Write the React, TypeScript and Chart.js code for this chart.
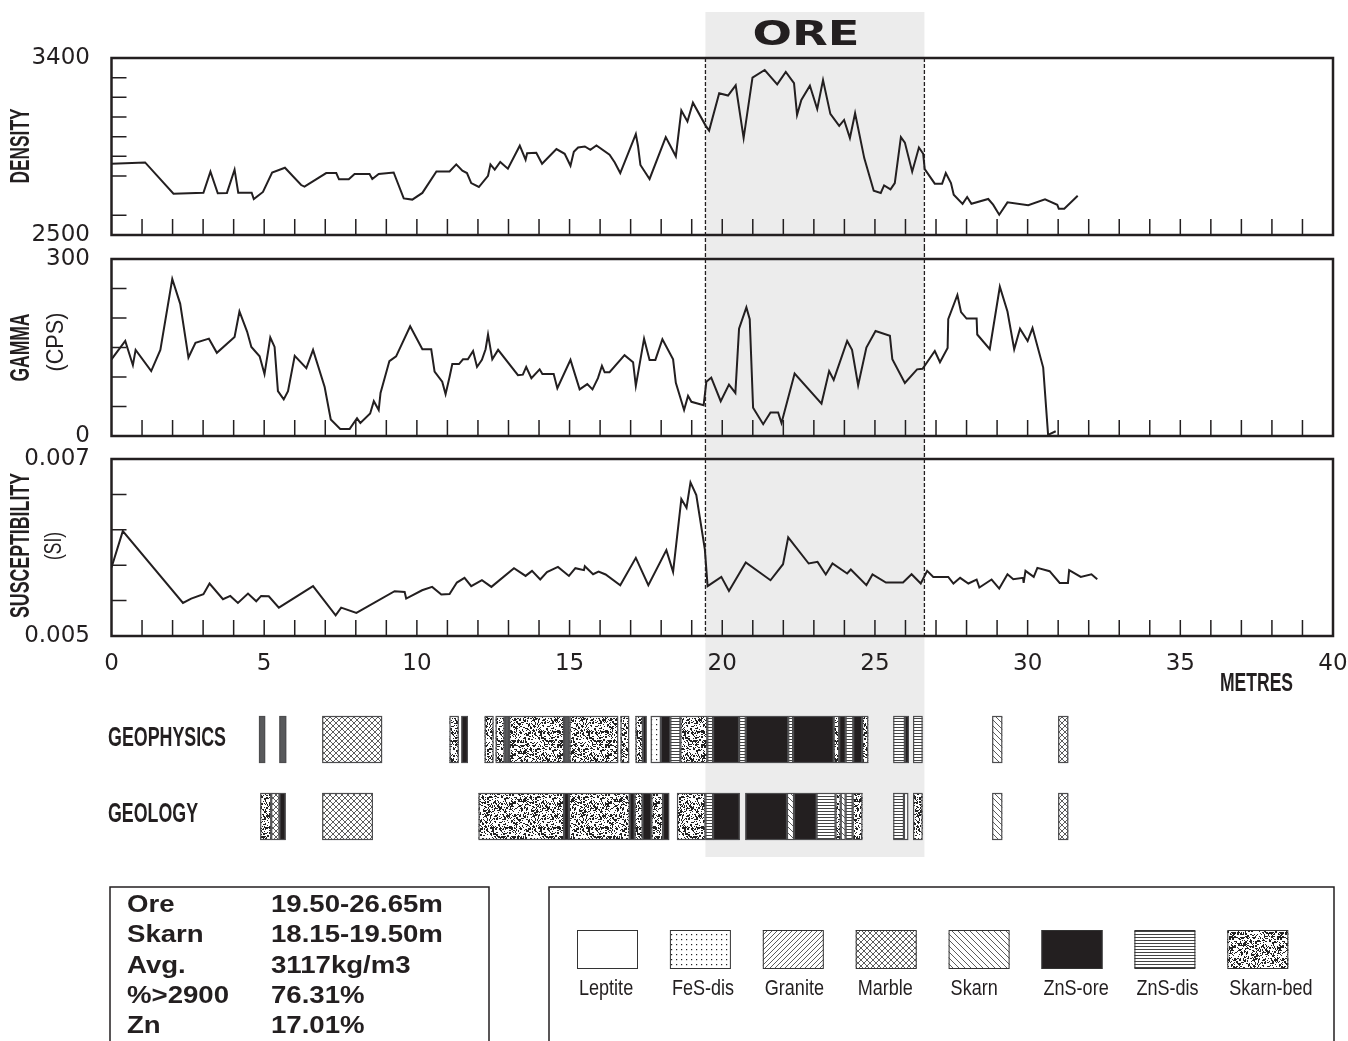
import React, { useEffect, useRef } from 'react';
import { Chart, registerables } from 'chart.js';

Chart.register(...registerables);

const INK = '#231f20';
const BAND = '#ececec';

// ---------------- data ----------------
const xRange = [0, 40];
const xTickLabels = [0, 5, 10, 15, 20, 25, 30, 35, 40];
const xMinorTicks = [1, 2, 3, 4, 5, 6, 7, 8, 9, 10, 11, 12, 13, 14, 15, 16, 17, 18, 19, 20, 21, 22, 23, 24, 25, 26, 27, 28, 29, 30, 31, 32, 33, 34, 35, 36, 37, 38, 39];
const oreBand = [19.45, 26.62];

const densityDepth = [0, 1.1, 2.03, 3.01, 3.24, 3.48, 3.78, 4.03, 4.15, 4.59, 4.66, 4.96, 5.26, 5.68, 6.21, 6.32, 7.03, 7.36, 7.45, 7.77, 7.96, 8.45, 8.54, 8.75, 9.24, 9.57, 9.85, 10.18, 10.64, 11.07, 11.29, 11.49, 11.64, 11.78, 12.03, 12.33, 12.41, 12.55, 12.73, 12.98, 13.37, 13.56, 13.61, 13.91, 14.1, 14.57, 14.84, 15.03, 15.14, 15.28, 15.5, 15.68, 15.88, 16.31, 16.48, 16.66, 17.17, 17.24, 17.32, 17.62, 18.15, 18.48, 18.66, 18.86, 19.04, 19.46, 19.57, 19.9, 20.19, 20.44, 20.7, 20.99, 21.39, 21.8, 22.08, 22.35, 22.45, 22.59, 22.87, 23.11, 23.3, 23.54, 23.83, 23.99, 24.18, 24.35, 24.65, 24.96, 25.19, 25.3, 25.51, 25.65, 25.85, 25.98, 26.22, 26.44, 26.58, 26.63, 26.96, 27.2, 27.32, 27.49, 27.58, 27.87, 28.02, 28.16, 28.71, 28.87, 29.07, 29.34, 30.02, 30.57, 30.97, 31.02, 31.2, 31.64];
const densityValue = [2862, 2869, 2710, 2715, 2822, 2712, 2714, 2832, 2715, 2715, 2683, 2719, 2818, 2842, 2754, 2746, 2815, 2815, 2783, 2783, 2810, 2810, 2785, 2810, 2818, 2686, 2680, 2714, 2823, 2823, 2859, 2827, 2815, 2764, 2744, 2801, 2859, 2832, 2871, 2837, 2954, 2883, 2916, 2918, 2862, 2937, 2913, 2852, 2923, 2945, 2950, 2933, 2955, 2908, 2869, 2815, 3013, 2954, 2856, 2785, 2998, 2900, 3133, 3077, 3173, 3055, 3031, 3221, 3209, 3261, 2993, 3300, 3339, 3266, 3329, 3272, 3111, 3187, 3259, 3141, 3288, 3116, 3055, 3085, 2993, 3119, 2891, 2725, 2714, 2752, 2732, 2764, 2998, 2970, 2822, 2945, 2913, 2835, 2761, 2761, 2815, 2764, 2705, 2658, 2693, 2659, 2683, 2654, 2603, 2666, 2651, 2681, 2654, 2634, 2634, 2700];

const gammaDepth = [0, 0.45, 0.7, 0.79, 1.3, 1.6, 1.99, 2.25, 2.52, 2.75, 3.19, 3.45, 4.03, 4.19, 4.44, 4.58, 4.85, 5.01, 5.2, 5.34, 5.45, 5.64, 5.78, 6.0, 6.38, 6.6, 6.98, 7.18, 7.49, 7.8, 8.04, 8.15, 8.47, 8.59, 8.75, 8.81, 9.1, 9.32, 9.78, 10.18, 10.47, 10.58, 10.83, 10.94, 11.07, 11.16, 11.38, 11.51, 11.67, 11.84, 11.97, 12.13, 12.25, 12.33, 12.47, 12.66, 13.31, 13.47, 13.58, 13.75, 14.02, 14.11, 14.48, 14.6, 15.03, 15.33, 15.58, 15.75, 15.93, 16.06, 16.15, 16.31, 16.8, 17.08, 17.17, 17.44, 17.62, 17.81, 18.04, 18.39, 18.48, 18.75, 18.88, 18.99, 19.39, 19.48, 19.64, 19.95, 20.22, 20.43, 20.55, 20.79, 20.9, 21.01, 21.34, 21.58, 21.83, 21.94, 22.37, 23.25, 23.5, 23.65, 24.09, 24.25, 24.45, 24.72, 25.02, 25.49, 25.57, 25.98, 26.38, 26.56, 26.96, 27.13, 27.38, 27.4, 27.7, 27.82, 28.0, 28.33, 28.35, 28.76, 29.09, 29.34, 29.56, 29.75, 30.0, 30.16, 30.51, 30.67, 30.92];
const gammaValue = [130, 161, 120, 146, 110, 146, 266, 224, 133, 158, 165, 141, 168, 211, 177, 151, 135, 105, 167, 151, 76, 62, 76, 136, 115, 146, 83, 28, 12, 12, 30, 22, 38, 59, 44, 73, 127, 135, 186, 147, 147, 109, 92, 71, 100, 122, 122, 130, 130, 144, 117, 129, 147, 172, 130, 146, 103, 104, 117, 98, 113, 105, 105, 81, 129, 79, 88, 79, 98, 119, 108, 108, 137, 125, 85, 165, 129, 129, 164, 130, 90, 44, 68, 58, 52, 92, 99, 59, 87, 73, 182, 218, 198, 48, 20, 40, 40, 22, 106, 55, 110, 95, 161, 146, 86, 150, 178, 170, 130, 90, 113, 114, 144, 125, 149, 198, 239, 210, 199, 199, 172, 147, 253, 211, 147, 182, 161, 183, 116, 2, 8];

const suscDepth = [0, 0.37, 2.34, 2.61, 3.01, 3.21, 3.65, 3.89, 4.14, 4.47, 4.74, 4.9, 5.15, 5.48, 6.6, 7.34, 7.52, 8.02, 9.27, 9.6, 9.65, 10.17, 10.5, 10.8, 11.07, 11.31, 11.56, 11.78, 12.13, 12.44, 13.18, 13.56, 13.77, 14.04, 14.26, 14.62, 14.98, 15.19, 15.47, 15.5, 15.77, 15.95, 16.18, 16.66, 17.17, 17.58, 18.17, 18.39, 18.66, 18.83, 18.96, 19.15, 19.43, 19.52, 19.97, 20.22, 20.77, 21.58, 21.99, 22.16, 22.83, 23.12, 23.39, 23.61, 24.09, 24.21, 24.72, 24.92, 25.36, 25.92, 26.2, 26.5, 26.71, 26.91, 27.4, 27.57, 27.79, 28.06, 28.33, 28.42, 28.82, 29.07, 29.34, 29.53, 29.85, 29.87, 29.93, 30.2, 30.32, 30.72, 31.05, 31.32, 31.36, 31.74, 32.09, 32.28];
const suscValue = [0.005774, 0.006185, 0.005374, 0.005423, 0.005472, 0.005593, 0.005415, 0.005453, 0.005374, 0.00548, 0.005393, 0.005453, 0.005449, 0.005321, 0.005563, 0.005234, 0.005321, 0.00526, 0.005506, 0.005498, 0.005423, 0.005517, 0.005555, 0.005469, 0.005475, 0.005604, 0.005657, 0.005563, 0.00563, 0.005555, 0.005766, 0.005679, 0.005736, 0.005638, 0.005721, 0.005781, 0.005679, 0.005766, 0.005744, 0.005789, 0.005698, 0.005729, 0.005695, 0.005574, 0.005883, 0.005574, 0.00597, 0.005725, 0.006547, 0.006449, 0.006736, 0.006593, 0.005978, 0.005563, 0.005668, 0.005509, 0.00583, 0.00563, 0.005811, 0.006114, 0.005819, 0.005838, 0.005695, 0.005819, 0.005706, 0.005751, 0.005574, 0.005695, 0.005604, 0.005604, 0.005698, 0.005593, 0.005736, 0.005668, 0.005668, 0.005593, 0.005657, 0.005593, 0.005638, 0.005548, 0.005638, 0.005536, 0.005698, 0.005642, 0.005657, 0.0056, 0.005736, 0.005668, 0.00577, 0.005732, 0.0056, 0.0056, 0.005744, 0.005668, 0.005698, 0.005642];

const densityRange = [2500, 3400];
const densityLabels = ['2500', '3400'];
const densityMinorTicks = [2600, 2800, 2900, 3000, 3100, 3200, 3300];
const gammaRange = [0, 300];
const gammaLabels = ['0', '300'];
const gammaMinorTicks = [50, 100, 150, 200, 250];
const suscRange = [0.005, 0.007];
const suscLabels = ['0.005', '0.007'];
const suscMinorTicks = [0.0054, 0.0058, 0.0062, 0.0066];

// lithology units [from, to, type]
// L Leptite, F FeS-dis, G Granite, M Marble, S Skarn, Z ZnS-ore, D ZnS-dis, B Skarn-bed, X unclassified (grey)
const geophysicsUnits: [number, number, string][] = [
  [4.83, 5.03, 'X'], [5.5, 5.72, 'X'], [6.9, 8.86, 'M'], [11.07, 11.37, 'B'], [11.46, 11.67, 'Z'],
  [12.22, 12.51, 'B'], [12.58, 12.87, 'B'], [12.87, 13.02, 'X'], [13.02, 14.82, 'B'], [14.82, 15.0, 'X'],
  [15.0, 16.59, 'B'], [16.67, 16.95, 'B'], [17.16, 17.4, 'B'], [17.4, 17.52, 'Z'], [17.66, 17.99, 'F'],
  [17.99, 18.3, 'Z'], [18.3, 18.63, 'D'], [18.63, 19.51, 'B'], [19.51, 19.7, 'D'], [19.7, 20.55, 'Z'],
  [20.55, 20.77, 'D'], [20.77, 22.16, 'Z'], [22.16, 22.32, 'D'], [22.32, 23.65, 'Z'], [23.65, 23.83, 'B'],
  [23.83, 24.04, 'Z'], [24.04, 24.29, 'D'], [24.29, 24.58, 'Z'], [24.58, 24.78, 'B'], [25.6, 25.98, 'D'],
  [25.98, 26.11, 'Z'], [26.25, 26.56, 'D'], [28.84, 29.17, 'S'], [31.0, 31.33, 'M'],
];
const geologyUnits: [number, number, string][] = [
  [4.87, 5.23, 'B'], [5.23, 5.5, 'M'], [5.5, 5.7, 'Z'], [6.9, 8.56, 'M'], [12.02, 14.82, 'B'],
  [14.82, 14.98, 'Z'], [14.98, 16.97, 'B'], [16.97, 17.13, 'Z'], [17.13, 17.39, 'B'], [17.39, 17.68, 'Z'],
  [17.68, 18.06, 'B'], [18.06, 18.26, 'Z'], [18.52, 19.45, 'B'], [19.45, 19.7, 'D'], [19.7, 20.57, 'Z'],
  [20.76, 22.12, 'Z'], [22.12, 22.35, 'S'], [22.35, 23.09, 'Z'], [23.09, 23.71, 'D'], [23.71, 23.88, 'B'],
  [23.88, 24.04, 'S'], [24.04, 24.27, 'D'], [24.27, 24.59, 'B'], [25.6, 25.95, 'D'], [25.95, 26.09, 'L'],
  [26.25, 26.56, 'B'], [28.84, 29.17, 'S'], [31.0, 31.33, 'M'],
];

const legendTypes = ['L', 'F', 'G', 'M', 'S', 'Z', 'D', 'B'];
const legendNames = ['Leptite', 'FeS-dis', 'Granite', 'Marble', 'Skarn', 'ZnS-ore', 'ZnS-dis', 'Skarn-bed'];

const statNames = ['Ore', 'Skarn', 'Avg.', '%>2900', 'Zn'];
const statValues = ['19.50-26.65m', '18.15-19.50m', '3117kg/m3', '76.31%', '17.01%'];

// ---------------- helpers ----------------
function hash(n: number) {
  let h = Math.imul(n + 1, 2654435761) >>> 0;
  h ^= h >>> 15;
  h = Math.imul(h, 2246822519) >>> 0;
  h ^= h >>> 13;
  return h >>> 0;
}

function makeFill(ctx: CanvasRenderingContext2D, type: string): string | CanvasPattern {
  if (type === 'L') return '#ffffff';
  if (type === 'Z') return INK;
  if (type === 'X') return '#58595b';
  const c = document.createElement('canvas');
  let w = 6, h = 6;
  if (type === 'B') { w = 48; h = 48; }
  if (type === 'D') { w = 6; h = 3; }
  if (type === 'F') { w = 5; h = 5; }
  if (type === 'G') { w = 5; h = 5; }
  c.width = w; c.height = h;
  const g = c.getContext('2d')!;
  g.fillStyle = '#fff';
  g.fillRect(0, 0, w, h);
  g.strokeStyle = '#333';
  g.fillStyle = '#222';
  g.lineWidth = 0.8;
  const line = (x0: number, y0: number, x1: number, y1: number) => {
    g.beginPath(); g.moveTo(x0, y0); g.lineTo(x1, y1); g.stroke();
  };
  if (type === 'F') {
    g.fillRect(1, 1, 1.2, 1.2);
  } else if (type === 'G') {
    line(0, h, w, 0); line(-1, 1, 1, -1); line(w - 1, h + 1, w + 1, h - 1);
  } else if (type === 'S') {
    line(0, 0, w, h); line(w - 1, -1, w + 1, 1); line(-1, h - 1, 1, h + 1);
  } else if (type === 'M') {
    line(0, 0, w, h); line(0, h, w, 0);
    line(w - 1, -1, w + 1, 1); line(-1, h - 1, 1, h + 1);
    line(-1, 1, 1, -1); line(w - 1, h + 1, w + 1, h - 1);
  } else if (type === 'D') {
    g.fillStyle = '#444';
    g.fillRect(0, 1, w, 1);
  } else if (type === 'B') {
    for (let i = 0; i < 800; i++) {
      const x = hash(i) % w;
      const y = hash(i + 5003) % h;
      const s = hash(i + 9001) % 9 === 0 ? 2 : 1;
      g.fillRect(x, y, s, s);
    }
  }
  return ctx.createPattern(c, 'repeat')!;
}

function text(
  ctx: CanvasRenderingContext2D, s: string, x: number, y: number, font: string,
  o: { width?: number; sx?: number; align?: CanvasTextAlign; rot?: number; color?: string } = {}
) {
  ctx.save();
  ctx.font = font;
  ctx.fillStyle = o.color || INK;
  ctx.textBaseline = 'middle';
  ctx.textAlign = o.align || 'left';
  ctx.translate(x, y);
  if (o.rot) ctx.rotate(o.rot);
  let sx = o.sx ?? 1;
  if (o.width) sx = o.width / ctx.measureText(s).width;
  ctx.scale(sx, 1);
  ctx.fillText(s, 0, 0);
  ctx.restore();
}

const BOLD = (px: number) => `bold ${px}px "Liberation Sans", Arial, sans-serif`;
const REG = (px: number) => `${px}px "Liberation Sans", Arial, sans-serif`;

type PanelCfg = {
  key: string; top: number; height: number; padTop: number; padBottom: number; showX: boolean;
  zone: number[]; // page-y range in which this canvas paints the ore band
  depth: number[]; values: number[]; range: number[]; labels: string[]; minor: number[];
  extra: (ctx: CanvasRenderingContext2D, chart: any, off: number) => void;
};

function drawUnits(ctx: CanvasRenderingContext2D, xs: any, units: [number, number, string][], top: number, bottom: number, fills: Record<string, any>) {
  units.forEach(([a, b, t]) => {
    const x0 = xs.getPixelForValue(a);
    const x1 = xs.getPixelForValue(b);
    ctx.fillStyle = fills[t];
    ctx.fillRect(x0, top, x1 - x0, bottom - top);
  });
  ctx.strokeStyle = '#4d4d4f';
  ctx.lineWidth = 1.2;
  units.forEach(([a, b]) => {
    const x0 = xs.getPixelForValue(a);
    const x1 = xs.getPixelForValue(b);
    ctx.strokeRect(x0 + 0.5, top + 0.5, x1 - x0 - 1, bottom - top - 1);
  });
}

const panels: PanelCfg[] = [
  {
    key: 'density', top: 0, height: 271, padTop: 58, padBottom: 36, showX: false, zone: [12, 247],
    depth: densityDepth, values: densityValue, range: densityRange, labels: densityLabels, minor: densityMinorTicks,
    extra: (ctx) => {
      text(ctx, 'ORE', 806, 36, `bold 34px "DejaVu Sans", sans-serif`, { width: 107, align: 'center' });
      text(ctx, 'DENSITY', 22, 146, BOLD(27), { width: 75, align: 'center', rot: -Math.PI / 2 });
    },
  },
  {
    key: 'gamma', top: 223, height: 249, padTop: 36, padBottom: 36, showX: false, zone: [247, 447],
    depth: gammaDepth, values: gammaValue, range: gammaRange, labels: gammaLabels, minor: gammaMinorTicks,
    extra: (ctx, chart, off) => {
      text(ctx, 'GAMMA', 22, 347.5 - off, BOLD(27), { width: 68, align: 'center', rot: -Math.PI / 2 });
      text(ctx, '(CPS)', 56, 342 - off, REG(24), { width: 59, align: 'center', rot: -Math.PI / 2 });
    },
  },
  {
    key: 'susc', top: 423, height: 618, padTop: 36, padBottom: 365, showX: true, zone: [447, 857],
    depth: suscDepth, values: suscValue, range: suscRange, labels: suscLabels, minor: suscMinorTicks,
    extra: (ctx, chart, off) => {
      const xs = chart.scales.x;
      text(ctx, 'SUSCEPTIBILITY', 22, 545.5 - off, BOLD(27), { width: 145, align: 'center', rot: -Math.PI / 2 });
      text(ctx, '(SI)', 54, 546 - off, REG(24), { width: 28, align: 'center', rot: -Math.PI / 2 });
      text(ctx, 'METRES', 1220, 684 - off, BOLD(25), { width: 73 });

      const fills: Record<string, any> = {};
      ['L', 'F', 'G', 'M', 'S', 'Z', 'D', 'B', 'X'].forEach((t) => { fills[t] = makeFill(ctx, t); });

      // lithology strips
      text(ctx, 'GEOPHYSICS', 108, 739 - off, BOLD(27), { width: 118 });
      text(ctx, 'GEOLOGY', 108, 815 - off, BOLD(27), { width: 90 });
      drawUnits(ctx, xs, geophysicsUnits, 716 - off, 763 - off, fills);
      drawUnits(ctx, xs, geologyUnits, 793 - off, 840 - off, fills);

      // stats box
      ctx.strokeStyle = INK;
      ctx.lineWidth = 1.5;
      ctx.beginPath();
      ctx.moveTo(110, 1045 - off); ctx.lineTo(110, 887 - off); ctx.lineTo(489, 887 - off); ctx.lineTo(489, 1045 - off);
      ctx.stroke();
      const rows = [905, 935.5, 966, 996, 1026];
      statNames.forEach((n, i) => {
        text(ctx, n, 127, rows[i] - off, BOLD(24), { sx: 1.15 });
        text(ctx, statValues[i], 271, rows[i] - off, BOLD(24), { sx: 1.15 });
      });

      // legend box
      ctx.strokeStyle = INK;
      ctx.lineWidth = 1.5;
      ctx.beginPath();
      ctx.moveTo(549, 1045 - off); ctx.lineTo(549, 887 - off); ctx.lineTo(1334, 887 - off); ctx.lineTo(1334, 1045 - off);
      ctx.stroke();
      legendTypes.forEach((t, i) => {
        const x = 577 + i * 92.9;
        ctx.fillStyle = fills[t];
        ctx.fillRect(x, 930 - off, 61, 39);
        ctx.strokeStyle = '#333';
        ctx.lineWidth = 1;
        ctx.strokeRect(x + 0.5, 930.5 - off, 60, 38);
        text(ctx, legendNames[i], x + 2, 989 - off, REG(22), { sx: 0.82 });
      });
    },
  },
];

function buildConfig(p: PanelCfg): any {
  const off = p.top;
  const plugin = {
    id: 'decor_' + p.key,
    beforeDraw(chart: any) {
      const ctx = chart.ctx as CanvasRenderingContext2D;
      const xs = chart.scales.x;
      const x0 = xs.getPixelForValue(oreBand[0]);
      const x1 = xs.getPixelForValue(oreBand[1]);
      ctx.save();
      ctx.fillStyle = BAND;
      ctx.fillRect(x0, p.zone[0] - off, x1 - x0, p.zone[1] - p.zone[0]);
      ctx.restore();
    },
    afterDatasetsDraw(chart: any) {
      const ctx = chart.ctx as CanvasRenderingContext2D;
      const a = chart.chartArea;
      const xs = chart.scales.x;
      const ys = chart.scales.y;
      ctx.save();
      ctx.strokeStyle = INK;
      ctx.lineWidth = 1.5;
      ctx.beginPath();
      p.minor.forEach((v) => {
        const y = ys.getPixelForValue(v);
        ctx.moveTo(a.left, y); ctx.lineTo(a.left + 15, y);
      });
      xMinorTicks.forEach((v) => {
        const x = xs.getPixelForValue(v);
        ctx.moveTo(x, a.bottom); ctx.lineTo(x, a.bottom - 16);
      });
      ctx.stroke();
      ctx.lineWidth = 2.5;
      ctx.strokeRect(a.left, a.top, a.right - a.left, a.bottom - a.top);
      // dashed ore limits
      const y0 = Math.max(58, p.zone[0]) - off;
      const y1 = Math.min(636, p.zone[1]) - off;
      ctx.lineWidth = 1.3;
      ctx.setLineDash([4, 2]);
      ctx.beginPath();
      oreBand.forEach((v) => {
        const x = xs.getPixelForValue(v);
        ctx.moveTo(x, y0); ctx.lineTo(x, y1);
      });
      ctx.stroke();
      ctx.restore();
    },
    afterDraw(chart: any) {
      const ctx = chart.ctx as CanvasRenderingContext2D;
      ctx.save();
      p.extra(ctx, chart, off);
      ctx.restore();
    },
  };

  return {
    type: 'line',
    data: {
      datasets: [{
        data: p.depth.map((d, i) => ({ x: d, y: p.values[i] })),
        borderColor: INK,
        borderWidth: 2,
        pointRadius: 0,
        fill: false,
        tension: 0,
      }],
    },
    options: {
      animation: false,
      responsive: false,
      devicePixelRatio: 1,
      layout: { padding: { left: 0, right: 15, top: p.padTop, bottom: p.padBottom } },
      plugins: { legend: { display: false }, tooltip: { enabled: false }, title: { display: false } },
      scales: {
        x: {
          type: 'linear', min: xRange[0], max: xRange[1], display: p.showX,
          grid: { display: false, drawTicks: false }, border: { display: false },
          ticks: { padding: 0, color: INK, font: { family: '"DejaVu Sans", sans-serif', size: 23, lineHeight: 2.4 }, autoSkip: false, maxRotation: 0 },
          afterBuildTicks: (s: any) => { s.ticks = xTickLabels.map((v) => ({ value: v })); },
          afterFit: (s: any) => { if (p.showX) s.height = 40; },
        },
        y: {
          type: 'linear', min: p.range[0], max: p.range[1],
          grid: { display: false, drawTicks: false }, border: { display: false },
          ticks: {
            padding: 21.5, color: INK, autoSkip: false,
            font: { family: '"DejaVu Sans", sans-serif', size: 23 },
            callback: (_v: any, i: number) => p.labels[i],
          },
          afterBuildTicks: (s: any) => { s.ticks = [{ value: p.range[0] }, { value: p.range[1] }]; },
          afterFit: (s: any) => { s.width = 111.5; },
        },
      },
    },
    plugins: [plugin],
  };
}

function Panel({ cfg }: { cfg: PanelCfg }) {
  const ref = useRef<HTMLCanvasElement>(null);
  useEffect(() => {
    const chart = new Chart(ref.current!, buildConfig(cfg));
    return () => chart.destroy();
  }, [cfg]);
  return (
    <canvas
      ref={ref}
      width={1348}
      height={cfg.height}
      style={{ position: 'absolute', left: 0, top: cfg.top, width: 1348, height: cfg.height }}
    />
  );
}

export default function App() {
  return (
    <div style={{ position: 'absolute', left: 0, top: 0, width: 1348, height: 1041, background: '#fff', overflow: 'hidden' }}>
      {panels.map((p) => <Panel key={p.key} cfg={p} />)}
    </div>
  );
}
